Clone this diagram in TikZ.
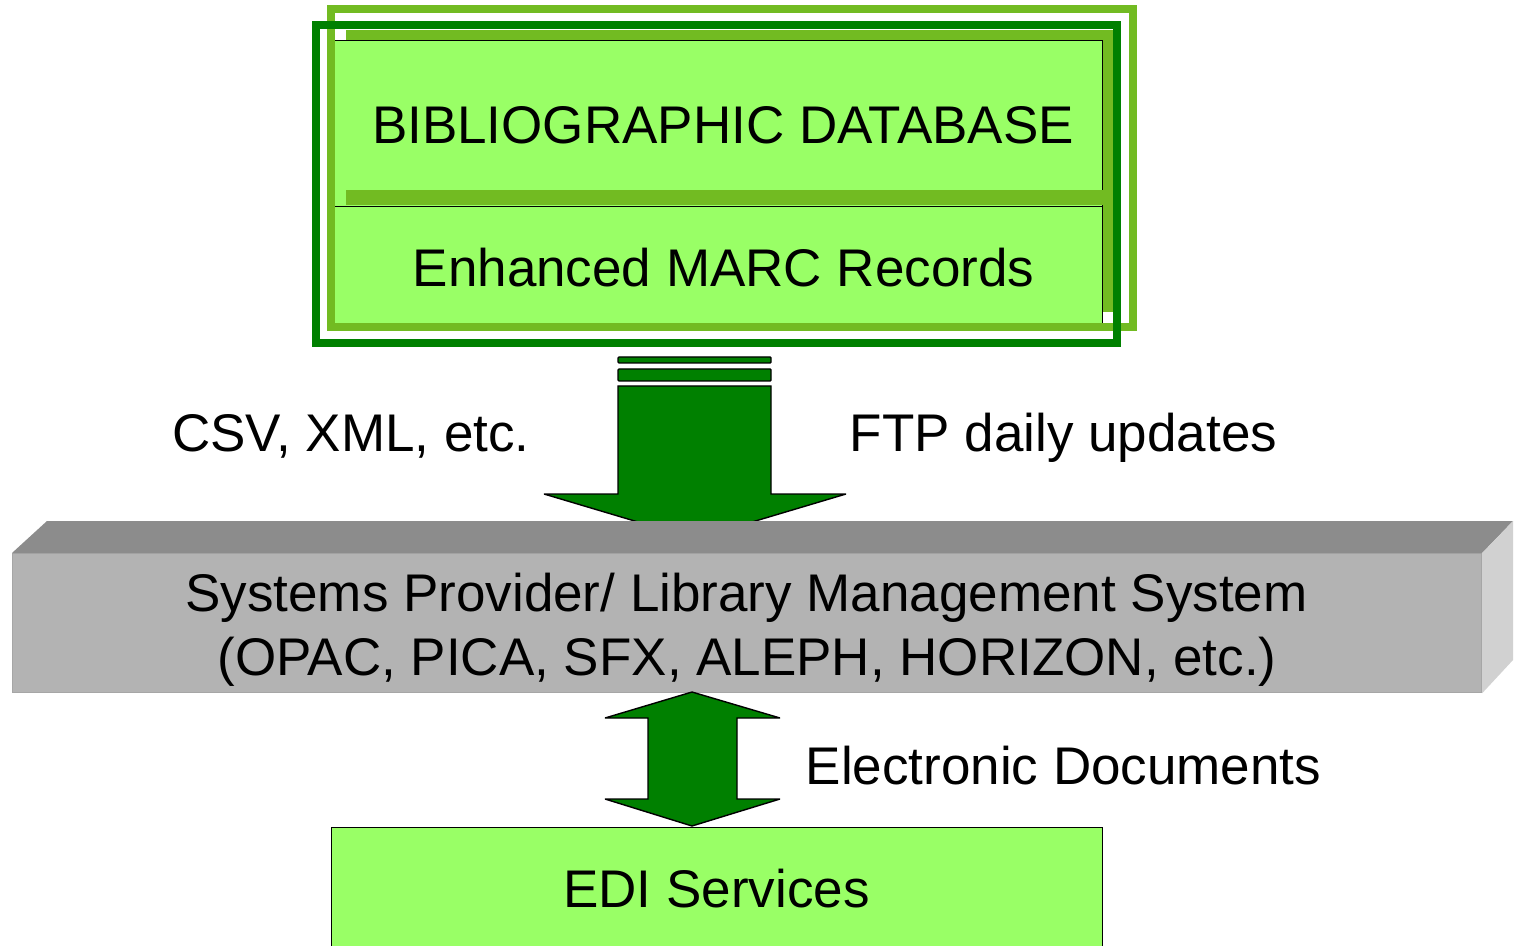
\documentclass[tikz,border=0pt]{standalone}
\usepackage{fontspec}
\setmainfont{Liberation Sans}
\definecolor{boxgreen}{HTML}{99FF66}
\definecolor{midgreen}{HTML}{72BB22}
\definecolor{darkgreen}{HTML}{008000}
\definecolor{topgray}{HTML}{8C8C8C}
\definecolor{frontgray}{HTML}{B3B3B3}
\definecolor{sidegray}{HTML}{D1D1D1}
\definecolor{edgegray}{HTML}{A6A6A6}
\begin{document}
\begin{tikzpicture}[x=0.5pt,y=-0.5pt,
  lbl/.style={font=\fontsize{26.5}{32}\selectfont, inner sep=0pt, anchor=base},
  greenbox/.style={fill=boxgreen, draw=black, line width=0.6pt, inner sep=0pt, anchor=north west},
  blockarrow/.style={fill=darkgreen, draw=black, line width=0.7pt, line join=miter, miter limit=3},
  frameline/.style={line width=4pt}]
\clip (0,0) rectangle (1514,946);
\fill[white] (0,0) rectangle (1514,946);
% shadow of the database stack
\fill[midgreen] (346,30) rectangle (1113,312);
% upper box
\node[greenbox, minimum width=384pt, minimum height=83pt] (bib) at (334,40) {};
\fill[midgreen] (346,190) rectangle (1113,205.5);
% lower box
\node[greenbox, minimum width=384pt, minimum height=58.5pt] (marc) at (334,206) {};
% frames
\draw[frameline, midgreen] (331,9) rectangle (1133,327);
\draw[frameline, darkgreen] (316,25) rectangle (1117,343);
\node[lbl] (tbib) at (723,144) {BIBLIOGRAPHIC DATABASE};
\node[lbl] (tmarc) at (723.5,287) {Enhanced MARC Records};
% down arrow
\draw[blockarrow, rounded corners=0.5pt] (618,357) rectangle (771,363);
\draw[blockarrow, rounded corners=0.5pt] (618,369) rectangle (771,381);
\draw[blockarrow] (618,386) -- (771,386) -- (771,494) -- (846,494) -- (695,539)
  -- (544,494) -- (618,494) -- cycle;
\node[lbl] (csv) at (351,451) {CSV, XML, etc.};
\node[lbl] (ftp) at (1063.5,451) {FTP daily updates};
% 3D bar
\node[fill=frontgray, draw=edgegray, line width=0.6pt, inner sep=0pt, anchor=north west,
  minimum width=734.5pt, minimum height=69.5pt] (lms) at (12,553) {};
\fill[topgray] (lms.north west) -- ++(35,-32) -- (1513,521) -- (lms.north east) -- cycle;
\fill[sidegray] (lms.north east) -- (1513,521) -- (1513,660) -- (lms.south east) -- cycle;
\node[lbl] (lms1) at (746.5,611) {Systems Provider/ Library Management System};
\node[lbl] (lms2) at (747,675) {(OPAC, PICA, SFX, ALEPH, HORIZON, etc.)};
% EDI box
\node[greenbox, minimum width=385.5pt, minimum height=100pt] (edi) at (331,827) {};
\node[lbl] (tedi) at (716.5,907) {EDI Services};
% double arrow
\draw[blockarrow] (692,692) -- (780,718) -- (737,718) -- (737,799) -- (780,799)
  -- (692,826) -- (605,799) -- (648,799) -- (648,718) -- (605,718) -- cycle;
\node[lbl] (edoc) at (1063.5,784) {Electronic Documents};
\end{tikzpicture}
\end{document}
